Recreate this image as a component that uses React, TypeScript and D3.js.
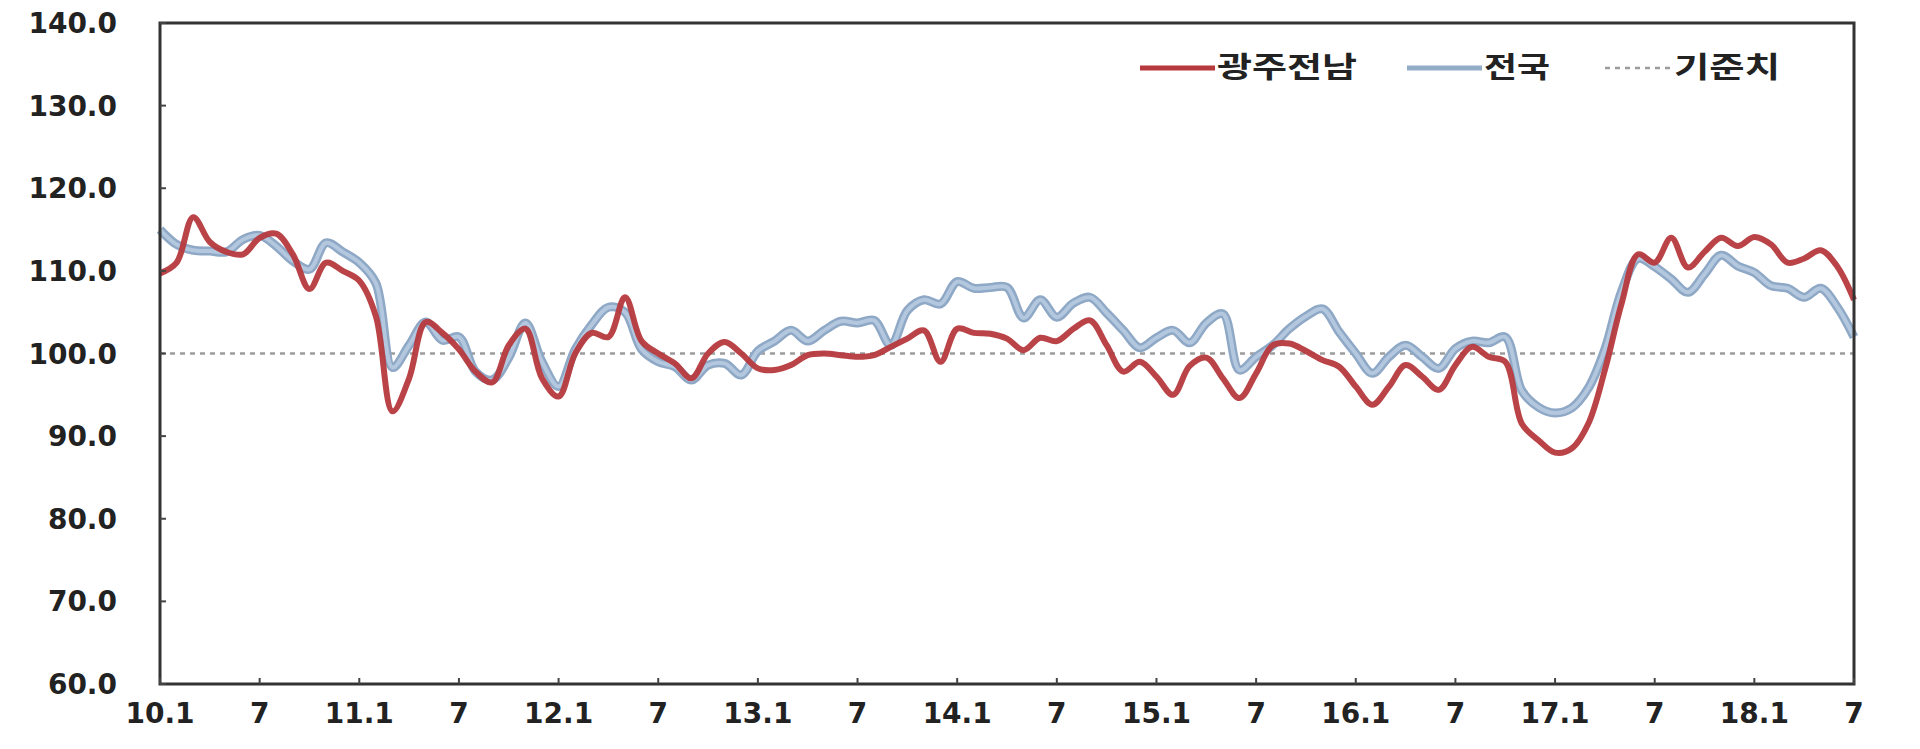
import * as d3 from 'd3';

// monthly, 2010.1 .. 2018.7
const gwangjuJeonnam = [
  109.7, 111.0, 116.5, 113.5, 112.3, 112.0, 114.0, 114.5, 112.0, 107.8, 111.0, 110.0,
  108.8, 104.5, 93.0, 97.0, 103.8, 102.5, 100.5, 97.8, 96.5, 101.0, 103.0, 97.0,
  94.8, 100.0, 102.5, 102.0, 106.8, 101.5, 100.0, 98.8, 97.0, 100.0, 101.4, 100.0,
  98.2, 98.0, 98.6, 99.8, 100.0, 99.8, 99.6, 99.8, 100.8, 101.8, 102.8, 99.0,
  103.0, 102.5, 102.4, 101.8, 100.4, 101.9, 101.5, 103.0, 104.0, 101.0, 97.8, 99.0,
  97.2, 95.0, 98.5, 99.5, 97.0, 94.6, 97.6, 101.0, 101.2, 100.3, 99.2, 98.4,
  96.0, 93.8, 96.0, 98.6, 97.2, 95.6, 98.6, 100.8, 99.6, 99.0, 91.5, 89.5,
  88.0, 88.5, 91.5, 98.0, 106.0, 112.0, 111.0, 114.0, 110.4, 112.3, 114.0, 113.0,
  114.1, 113.2, 111.0, 111.5, 112.5, 110.5, 106.5,
];

const nationwide = [
  115.0, 113.2, 112.5, 112.4, 112.3, 113.8, 114.3, 113.0, 111.2, 110.2, 113.4, 112.3,
  111.0, 108.5, 98.3, 101.0, 103.8, 101.6, 102.0, 97.8, 96.8, 99.5, 103.7, 99.0,
  96.0, 100.5, 103.5, 105.6, 105.0, 100.5, 99.0, 98.4, 96.8, 98.6, 98.8, 97.4,
  100.3, 101.5, 102.8, 101.5, 102.8, 103.9, 103.7, 104.0, 101.0, 105.2, 106.5, 106.0,
  108.7, 107.9, 108.0, 108.0, 104.3, 106.5, 104.4, 106.1, 106.8, 104.9, 102.8, 100.7,
  101.9, 102.8, 101.3, 103.7, 104.8, 98.0, 99.6, 101.0, 103.0, 104.5, 105.4, 102.6,
  100.0, 97.6, 99.6, 101.0, 99.6, 98.2, 100.6, 101.5, 101.3, 102.0, 95.5, 93.5,
  92.8, 93.4, 95.8, 100.5, 107.5, 111.5, 110.5, 109.0, 107.4, 109.6, 111.9, 110.6,
  109.8, 108.2, 107.9, 106.8, 107.9, 105.6, 102.0,
];

const xTickLabels = [
  '10.1', '7', '11.1', '7', '12.1', '7', '13.1', '7', '14.1',
  '7', '15.1', '7', '16.1', '7', '17.1', '7', '18.1', '7',
];
const yTicks = [60, 70, 80, 90, 100, 110, 120, 130, 140];
const baseline = 100;
const legendLabels = ['광주전남', '전국', '기준치'];

const W = 1920;
const H = 749;
const margin = { top: 23, right: 66, bottom: 65, left: 160 };

export default function App() {
  const innerW = W - margin.left - margin.right;
  const innerH = H - margin.top - margin.bottom;

  const x = d3.scaleLinear().domain([0, gwangjuJeonnam.length - 1]).range([0, innerW]);
  const y = d3.scaleLinear().domain([60, 140]).range([innerH, 0]);

  const line = d3
    .line<number>()
    .x((_, i) => x(i))
    .y((d) => y(d))
    .curve(d3.curveCatmullRom.alpha(0.5));

  const numFont = '"DejaVu Sans", sans-serif';
  const krFont = '"Noto Sans CJK KR", sans-serif';

  return (
    <svg
      width={W}
      height={H}
      style={{ position: 'absolute', left: 0, top: 0, background: '#fff' }}
    >
      <g transform={`translate(${margin.left},${margin.top})`}>
        {/* baseline */}
        <line
          x1={0}
          x2={innerW}
          y1={y(baseline)}
          y2={y(baseline)}
          stroke="#9c9c9c"
          strokeWidth={2.5}
          strokeDasharray="5 5"
        />

        {/* nationwide: light blue with darker rim */}
        <path d={line(nationwide) ?? ''} fill="none" stroke="#8ea8c6" strokeWidth={9} strokeLinejoin="round" />
        <path d={line(nationwide) ?? ''} fill="none" stroke="#b3c8de" strokeWidth={4} strokeLinejoin="round" />

        {/* gwangju-jeonnam */}
        <path
          d={line(gwangjuJeonnam) ?? ''}
          fill="none"
          stroke="#b6393d"
          strokeWidth={6}
          strokeLinejoin="round"
          opacity={0.95}
        />

        {/* frame */}
        <rect x={0} y={0} width={innerW} height={innerH} fill="none" stroke="#333" strokeWidth={3} />

        {/* y ticks + labels */}
        {yTicks.map((t) => (
          <g key={t} transform={`translate(0,${y(t)})`}>
            <line x1={0} x2={6} stroke="#444" strokeWidth={2} />
            <text
              x={-43}
              dy="0.36em"
              textAnchor="end"
              fontFamily={numFont}
              fontWeight="bold"
              fontSize={28}
              fill="#222"
            >
              {t.toFixed(1)}
            </text>
          </g>
        ))}

        {/* x ticks + labels */}
        {xTickLabels.map((lab, i) => (
          <g key={i} transform={`translate(${x(i * 6)},${innerH})`}>
            <line y1={0} y2={-6} stroke="#444" strokeWidth={2} />
            <text
              y={39}
              textAnchor="middle"
              fontFamily={numFont}
              fontWeight="bold"
              fontSize={28}
              fill="#222"
            >
              {lab}
            </text>
          </g>
        ))}
      </g>

      {/* legend */}
      <g fontFamily={krFont} fontWeight="bold" fontSize={29} fill="#222">
        <line x1={1140} x2={1215} y1={68} y2={68} stroke="#b6393d" strokeWidth={5} />
        <text x={1217} y={68} dy="0.36em" textLength={140} lengthAdjust="spacingAndGlyphs">
          {legendLabels[0]}
        </text>
        <line x1={1407} x2={1482} y1={68} y2={68} stroke="#93adc9" strokeWidth={5} />
        <text x={1484} y={68} dy="0.36em" textLength={66} lengthAdjust="spacingAndGlyphs">
          {legendLabels[1]}
        </text>
        <line
          x1={1605}
          x2={1670}
          y1={68}
          y2={68}
          stroke="#9c9c9c"
          strokeWidth={2.5}
          strokeDasharray="5 5"
        />
        <text x={1674} y={68} dy="0.36em" textLength={106} lengthAdjust="spacingAndGlyphs">
          {legendLabels[2]}
        </text>
      </g>
    </svg>
  );
}
